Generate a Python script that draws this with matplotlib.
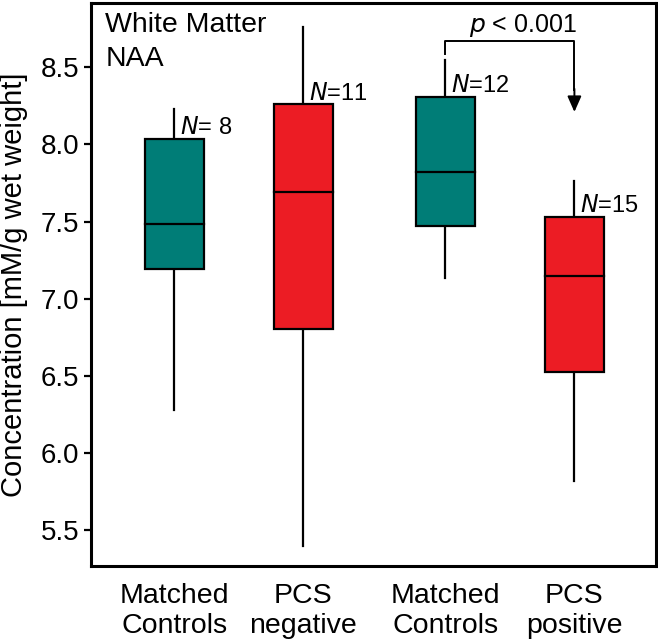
import matplotlib.pyplot as plt
from matplotlib.patches import Rectangle

plt.rcParams['font.family'] = ['Liberation Sans', 'DejaVu Sans']

groups = ["Matched\nControls", "PCS\nnegative", "Matched\nControls", "PCS\npositive"]
positions = [1.0, 2.0, 3.1, 4.1]
n_labels = ["= 8", "=11", "=12", "=15"]
whisker_lo = [6.277, 5.396, 7.137, 5.815]
q1 = [7.189, 6.804, 7.470, 6.525]
median = [7.487, 7.690, 7.820, 7.147]
q3 = [8.038, 8.260, 8.310, 7.530]
whisker_hi = [8.232, 8.760, 8.550, 7.760]
colors = ["#007D77", "#EC1C24", "#007D77", "#EC1C24"]

box_w = 0.457

fig = plt.figure(figsize=(6.58, 6.41), dpi=100)
ax = fig.add_axes([0.1383, 0.117, 0.859, 0.878])

for i, x in enumerate(positions):
    ax.plot([x, x], [whisker_lo[i], q1[i]], color="black", lw=1.6, zorder=1)
    ax.plot([x, x], [q3[i], whisker_hi[i]], color="black", lw=1.6, zorder=1)
    ax.add_patch(Rectangle((x - box_w / 2, q1[i]), box_w, q3[i] - q1[i],
                           facecolor=colors[i], edgecolor="black", lw=1.6, zorder=2))
    ax.plot([x - box_w / 2, x + box_w / 2], [median[i], median[i]],
            color="black", lw=1.6, zorder=3)
    ax.text(x + 0.04, q3[i] + 0.03, "$N$" + n_labels[i], fontsize=17,
            ha="left", va="baseline")

# significance bracket
y_br = 8.668
ax.plot([positions[2], positions[2], positions[3], positions[3]],
        [8.584, y_br, y_br, 8.35], color="black", lw=1.4)
ax.annotate("", xy=(positions[3], 8.21), xytext=(positions[3], 8.36),
            arrowprops=dict(arrowstyle="-|>,head_width=0.42,head_length=0.95",
                            color="black", lw=1.4, shrinkA=0, shrinkB=0))
ax.text(3.70, 8.73, "$p$ < 0.001", fontsize=18, ha="center", va="baseline")

ax.text(0.025, 0.985, "White Matter\nNAA", transform=ax.transAxes, fontsize=20.5,
        ha="left", va="top", linespacing=1.4)

ax.set_xlim(0.354, 4.734)
ax.set_ylim(5.267, 8.915)
ax.set_yticks([5.5, 6.0, 6.5, 7.0, 7.5, 8.0, 8.5])
ax.set_yticklabels(["5.5", "6.0", "6.5", "7.0", "7.5", "8.0", "8.5"])
ax.set_xticks(positions)
ax.set_xticklabels(groups)
ax.tick_params(axis="y", labelsize=20, length=5, width=1.6, direction="out")
ax.tick_params(axis="x", labelsize=20.5, length=0, pad=12)
ax.set_ylabel("Concentration [mM/g wet weight]", fontsize=21, labelpad=9)
for s in ax.spines.values():
    s.set_linewidth(2.2)

fig.savefig("out.png", dpi=100)
